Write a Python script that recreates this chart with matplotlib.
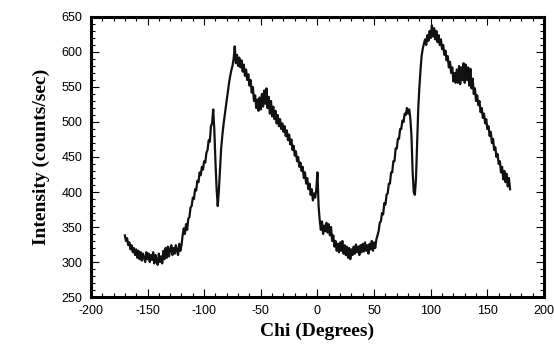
import numpy as np
import matplotlib
matplotlib.use('Agg')
import matplotlib.pyplot as plt
from matplotlib.ticker import MultipleLocator

plt.rcParams['axes.unicode_minus'] = False

# Chi scan, 1 degree steps, intensities
chi = np.arange(-170, 171, 1)
intensity = [
    338, 330, 334, 324, 328, 318, 324, 314, 320, 310,   # -170
    318, 306, 316, 304, 314, 302, 312, 306, 300, 314,   # -160
    304, 312, 300, 310, 303, 314, 298, 310, 302, 296,   # -150
    312, 300, 308, 298, 316, 304, 320, 306, 322, 308,   # -140
    318, 324, 310, 320, 312, 324, 316, 310, 326, 316,   # -130
    324, 338, 348, 340, 354, 346, 362, 364, 378, 380,   # -120
    392, 390, 404, 402, 416, 414, 428, 424, 436, 432,   # -110
    444, 442, 456, 460, 474, 472, 494, 498, 518, 488,   # -100
    442, 405, 380, 402, 432, 462, 480, 495, 508, 520,   # -90
    532, 545, 556, 566, 574, 580, 590, 608, 584, 596,   # -80
    580, 592, 578, 588, 572, 582, 566, 575, 560, 568,   # -70
    552, 560, 542, 550, 530, 538, 520, 532, 516, 535,   # -60
    518, 540, 522, 545, 526, 548, 520, 536, 512, 530,   # -50
    508, 522, 504, 516, 498, 510, 494, 504, 490, 498,   # -40
    486, 494, 480, 488, 474, 482, 468, 475, 460, 466,   # -30
    452, 458, 444, 450, 436, 442, 430, 436, 420, 428,   # -20
    412, 420, 404, 412, 396, 404, 388, 398, 392, 404,   # -10
    428, 380, 360, 346, 358, 340, 352, 344, 356, 342,   # 0
    354, 338, 350, 330, 338, 322, 330, 316, 326, 314,   # 10
    328, 316, 330, 312, 324, 310, 322, 306, 320, 304,   # 20
    318, 310, 322, 312, 325, 314, 322, 310, 324, 314,   # 30
    326, 315, 328, 316, 324, 312, 326, 318, 330, 316,   # 40
    328, 320, 332, 338, 344, 356, 358, 370, 368, 384,   # 50
    382, 396, 398, 412, 412, 428, 428, 444, 444, 462,   # 60
    462, 476, 476, 490, 490, 502, 500, 512, 510, 520,   # 70
    512, 518, 505, 480, 430, 400, 396, 420, 470, 520,   # 80
    550, 575, 595, 605, 612, 618, 610, 624, 616, 630,   # 90
    620, 638, 622, 634, 618, 630, 614, 624, 610, 618,   # 100
    604, 610, 596, 602, 588, 594, 578, 586, 570, 578,   # 110
    558, 570, 556, 575, 556, 580, 554, 578, 560, 584,   # 120
    556, 582, 560, 578, 552, 576, 548, 562, 540, 548,   # 130
    530, 538, 524, 530, 514, 520, 506, 512, 498, 504,   # 140
    490, 494, 480, 486, 470, 476, 460, 464, 450, 454,   # 150
    440, 444, 428, 436, 418, 430, 414, 426, 408, 420,   # 160
    404,                                                # 170
]

fig = plt.figure(figsize=(5.54, 3.54), dpi=100)
ax = fig.add_axes([0.164, 0.161, 0.818, 0.791])
ax.plot(chi, intensity, color='#111111', lw=1.6)

ax.set_xlim(-200, 200)
ax.set_ylim(250, 650)
ax.xaxis.set_major_locator(MultipleLocator(50))
ax.xaxis.set_minor_locator(MultipleLocator(10))
ax.yaxis.set_major_locator(MultipleLocator(50))
ax.yaxis.set_minor_locator(MultipleLocator(10))
ax.tick_params(which='both', direction='in', top=True, right=True, width=0.8,
               labelsize=9, pad=6)
ax.tick_params(which='major', length=6)
ax.tick_params(which='minor', length=3)
for lab in ax.get_xticklabels() + ax.get_yticklabels():
    lab.set_family('Liberation Sans')
for s in ax.spines.values():
    s.set_linewidth(2.2)

ax.set_xlabel('Chi (Degrees)', family='Liberation Serif', fontweight='bold',
              fontsize=14, labelpad=4)
ax.set_ylabel('Intensity (counts/sec)', family='Liberation Serif', fontweight='bold',
              fontsize=14, labelpad=8)

fig.savefig('out.png', dpi=100)
